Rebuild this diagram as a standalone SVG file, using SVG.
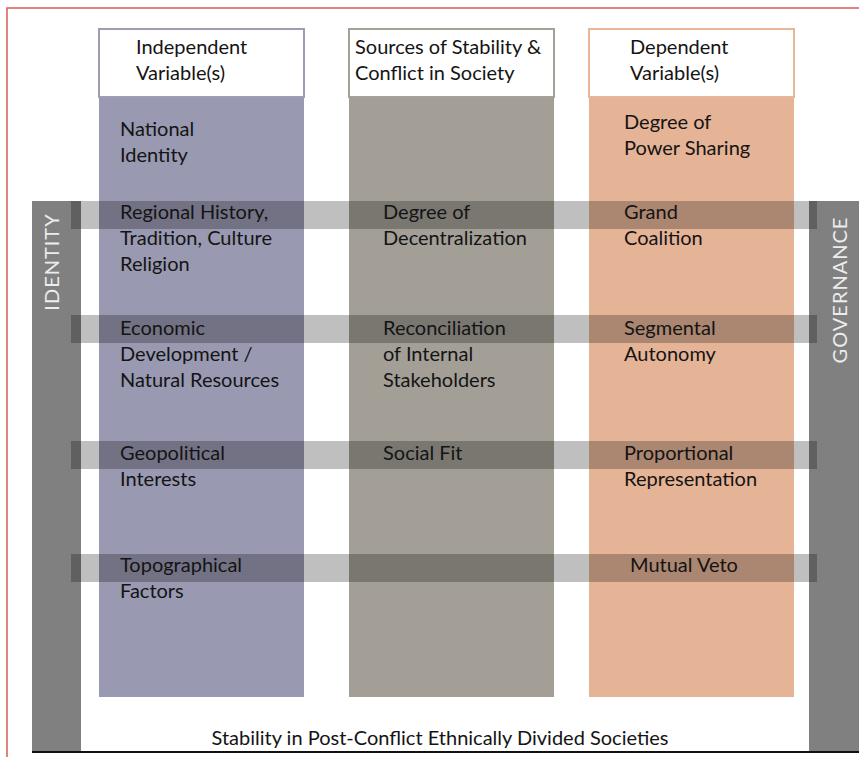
<svg xmlns="http://www.w3.org/2000/svg" width="859" height="757" viewBox="0 0 859 757">
<style>
.t{font-family:Lato,"Gill Sans","Liberation Sans",sans-serif;font-size:20px;fill:#141414}
.side{font-family:Lato,"Liberation Sans",sans-serif;font-size:20px;fill:#ececec;letter-spacing:1px}
.band{fill:#000;fill-opacity:0.25}
.bar{fill:#808080}
.hdr{fill:#fff;stroke-width:2}
</style>
<rect width="859" height="757" fill="#fff"/>
<rect x="7" y="8" width="900" height="800" fill="none" stroke="#d95a5a" stroke-width="1.5"/>

<g id="side-bars">
<rect class="bar" x="32" y="201" width="49" height="551"/>
<rect class="bar" x="809" y="201" width="50" height="551"/>
<text class="side" transform="translate(59,262) rotate(-90)" text-anchor="middle">IDENTITY</text>
<text class="side" transform="translate(847,290) rotate(-90)" text-anchor="middle">GOVERNANCE</text>
</g>

<g id="col-independent">
<rect x="99" y="97" width="205" height="600" fill="#9999b1"/>
<rect class="hdr" x="99" y="29" width="205" height="68" stroke="#9d9db4"/>
<text class="t" x="136" y="54">Independent</text>
<text class="t" x="136" y="80">Variable(s)</text>
</g>

<g id="col-sources">
<rect x="349" y="97" width="205" height="600" fill="#a39f97"/>
<rect class="hdr" x="349" y="29" width="205" height="68" stroke="#a5a199"/>
<text class="t" x="355" y="54">Sources of Stability &amp;</text>
<text class="t" x="355" y="80">Conflict in Society</text>
</g>

<g id="col-dependent">
<rect x="589" y="97" width="205" height="600" fill="#e5b396"/>
<rect class="hdr" x="589" y="29" width="205" height="68" stroke="#e9b699"/>
<text class="t" x="630" y="54">Dependent</text>
<text class="t" x="630" y="80">Variable(s)</text>
</g>

<g id="bands">
<rect class="band" x="71" y="201" width="746" height="28"/>
<rect class="band" x="71" y="315" width="746" height="28"/>
<rect class="band" x="71" y="441" width="746" height="28"/>
<rect class="band" x="71" y="554" width="746" height="28"/>
</g>

<g id="texts-independent">
<text class="t" x="120" y="136">National</text>
<text class="t" x="120" y="162">Identity</text>
<text class="t" x="120" y="219">Regional History,</text>
<text class="t" x="120" y="245">Tradition, Culture</text>
<text class="t" x="120" y="271">Religion</text>
<text class="t" x="120" y="335">Economic</text>
<text class="t" x="120" y="361">Development /</text>
<text class="t" x="120" y="387">Natural Resources</text>
<text class="t" x="120" y="460">Geopolitical</text>
<text class="t" x="120" y="486">Interests</text>
<text class="t" x="120" y="572">Topographical</text>
<text class="t" x="120" y="598">Factors</text>
</g>

<g id="texts-sources">
<text class="t" x="383" y="219">Degree of</text>
<text class="t" x="383" y="245">Decentralization</text>
<text class="t" x="383" y="335">Reconciliation</text>
<text class="t" x="383" y="361">of Internal</text>
<text class="t" x="383" y="387">Stakeholders</text>
<text class="t" x="383" y="460">Social Fit</text>
</g>

<g id="texts-dependent">
<text class="t" x="624" y="129">Degree of</text>
<text class="t" x="624" y="155">Power Sharing</text>
<text class="t" x="624" y="219">Grand</text>
<text class="t" x="624" y="245">Coalition</text>
<text class="t" x="624" y="335">Segmental</text>
<text class="t" x="624" y="361">Autonomy</text>
<text class="t" x="624" y="460">Proportional</text>
<text class="t" x="624" y="486">Representation</text>
<text class="t" x="630" y="572">Mutual Veto</text>
</g>

<g id="connectors">
<line x1="32" y1="752" x2="859" y2="752" stroke="#111" stroke-width="2"/>
</g>
<text class="t" x="440" y="745" text-anchor="middle">Stability in Post-Conflict Ethnically Divided Societies</text>
</svg>
